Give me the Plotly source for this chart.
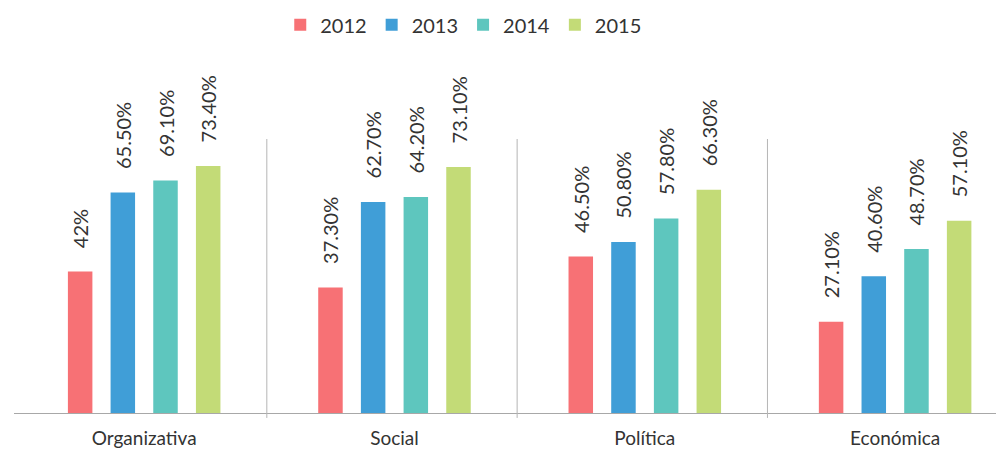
import plotly.graph_objects as go

categories = ["Organizativa", "Social", "Política", "Económica"]
years = ["2012", "2013", "2014", "2015"]
values_2012 = [42.0, 37.3, 46.5, 27.1]
values_2013 = [65.5, 62.7, 50.8, 40.6]
values_2014 = [69.1, 64.2, 57.8, 48.7]
values_2015 = [73.4, 73.1, 66.3, 57.1]
labels_2012 = ["42%", "37.30%", "46.50%", "27.10%"]
labels_2013 = ["65.50%", "62.70%", "50.80%", "40.60%"]
labels_2014 = ["69.10%", "64.20%", "57.80%", "48.70%"]
labels_2015 = ["73.40%", "73.10%", "66.30%", "57.10%"]

series = [values_2012, values_2013, values_2014, values_2015]
labels = [labels_2012, labels_2013, labels_2014, labels_2015]
colors = ["#F77175", "#409ED7", "#5EC6BE", "#C3DB77"]

FONT = "Lato, 'Noto Sans', sans-serif"
PAD = "\u00a0" * 4

fig = go.Figure()
for yr, vals, labs, col in zip(years, series, labels, colors):
    fig.add_trace(go.Bar(
        name=yr, x=list(range(len(categories))), y=vals,
        text=[PAD + t for t in labs], textposition="outside", textangle=-90,
        constraintext="none",
        textfont=dict(family=FONT, size=20, color="#333333"),
        marker=dict(color=col, line=dict(width=0)),
        cliponaxis=False,
    ))

for b in [0.49, 1.49, 2.49]:
    fig.add_shape(type="line", xref="x", yref="paper", x0=b, x1=b, y0=-0.018, y1=1,
                  line=dict(color="#B5B5B5", width=1))

fig.update_layout(
    width=996, height=451,
    margin=dict(l=14, r=0, t=139, b=38, autoexpand=False),
    paper_bgcolor="white", plot_bgcolor="white",
    barmode="group", bargap=0.318, bargroupgap=0.426,
    font=dict(family=FONT, size=17, color="#333333"),
    legend=dict(orientation="h", x=0.458, xanchor="center", xref="paper",
                y=0.945, yanchor="middle", yref="container",
                font=dict(size=20, color="#333333"), itemclick=False,
                traceorder="normal"),
    xaxis=dict(range=[-0.52, 3.403], tickmode="array", tickvals=list(range(len(categories))),
               ticktext=categories, showgrid=False, zeroline=False,
               showline=True, linecolor="#A8A8A8", linewidth=1, ticks="",
               ticklabelstandoff=8, tickfont=dict(size=19, color="#333333"),
               automargin=False),
    yaxis=dict(range=[0, 81.4], visible=False, showgrid=False, zeroline=False),
    showlegend=True,
)

fig.write_html("out.html", config={"displayModeBar": False},
               post_script="document.body.style.margin='0';document.body.style.padding='0';")
